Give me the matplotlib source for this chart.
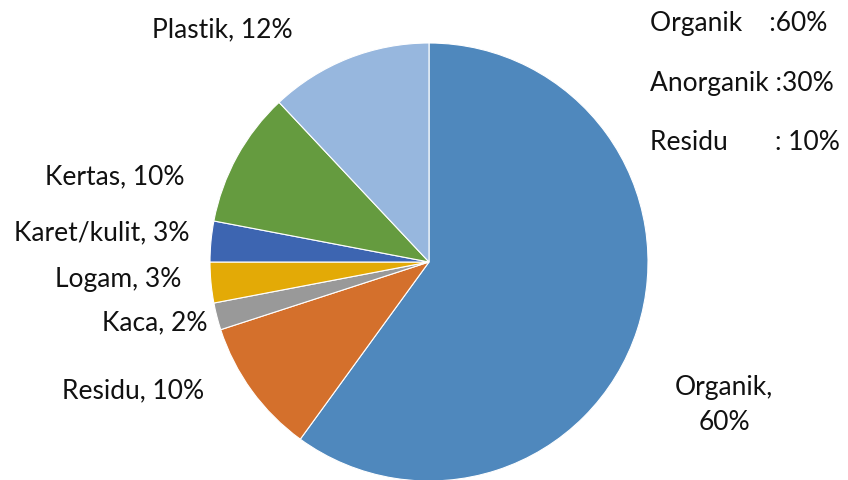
import matplotlib
matplotlib.use("Agg")
import matplotlib.pyplot as plt

# komposisi sampah (%)
names = ["Organik", "Residu", "Kaca", "Logam", "Karet/kulit", "Kertas", "Plastik"]
values = [60, 10, 2, 3, 3, 10, 12]
colors = ["#4f88bd", "#d4702c", "#999999", "#e3aa06", "#3d65b1", "#659b3f", "#97b7de"]

summary = ["Organik    :60%", "Anorganik :30%", "Residu       : 10%"]

plt.rcParams["font.family"] = ["Lato", "DejaVu Sans"]

fig = plt.figure(figsize=(8.48, 4.8), dpi=100)
ax = fig.add_axes([0, 0, 1, 1])

ax.pie(values, colors=colors, startangle=90, counterclock=False,
       center=(429, 218), radius=219, frame=True,
       wedgeprops={"edgecolor": "white", "linewidth": 0.8})
ax.set_xlim(0, 848)
ax.set_ylim(0, 480)
ax.set_aspect("equal")
ax.axis("off")

# label positions (pixels from top-left)
label_pos = {
    "Organik": (724, 405),
    "Residu": (133, 391),
    "Kaca": (155, 323),
    "Logam": (118, 280),
    "Karet/kulit": (102, 233),
    "Kertas": (115, 177),
    "Plastik": (222, 30),
}
fs = 19
for n, v in zip(names, values):
    x, y = label_pos[n]
    if n == "Organik":
        txt = f"{n},\n{v}%"
    else:
        txt = f"{n}, {v}%"
    ax.text(x, 480 - y, txt, ha="center", va="center", fontsize=fs,
            color="#111111", linespacing=1.45)

for i, s in enumerate(summary):
    ax.text(650, 480 - (23 + i * 60), s, ha="left", va="center",
            fontsize=fs, color="#111111")

fig.savefig("out.png", dpi=100)
